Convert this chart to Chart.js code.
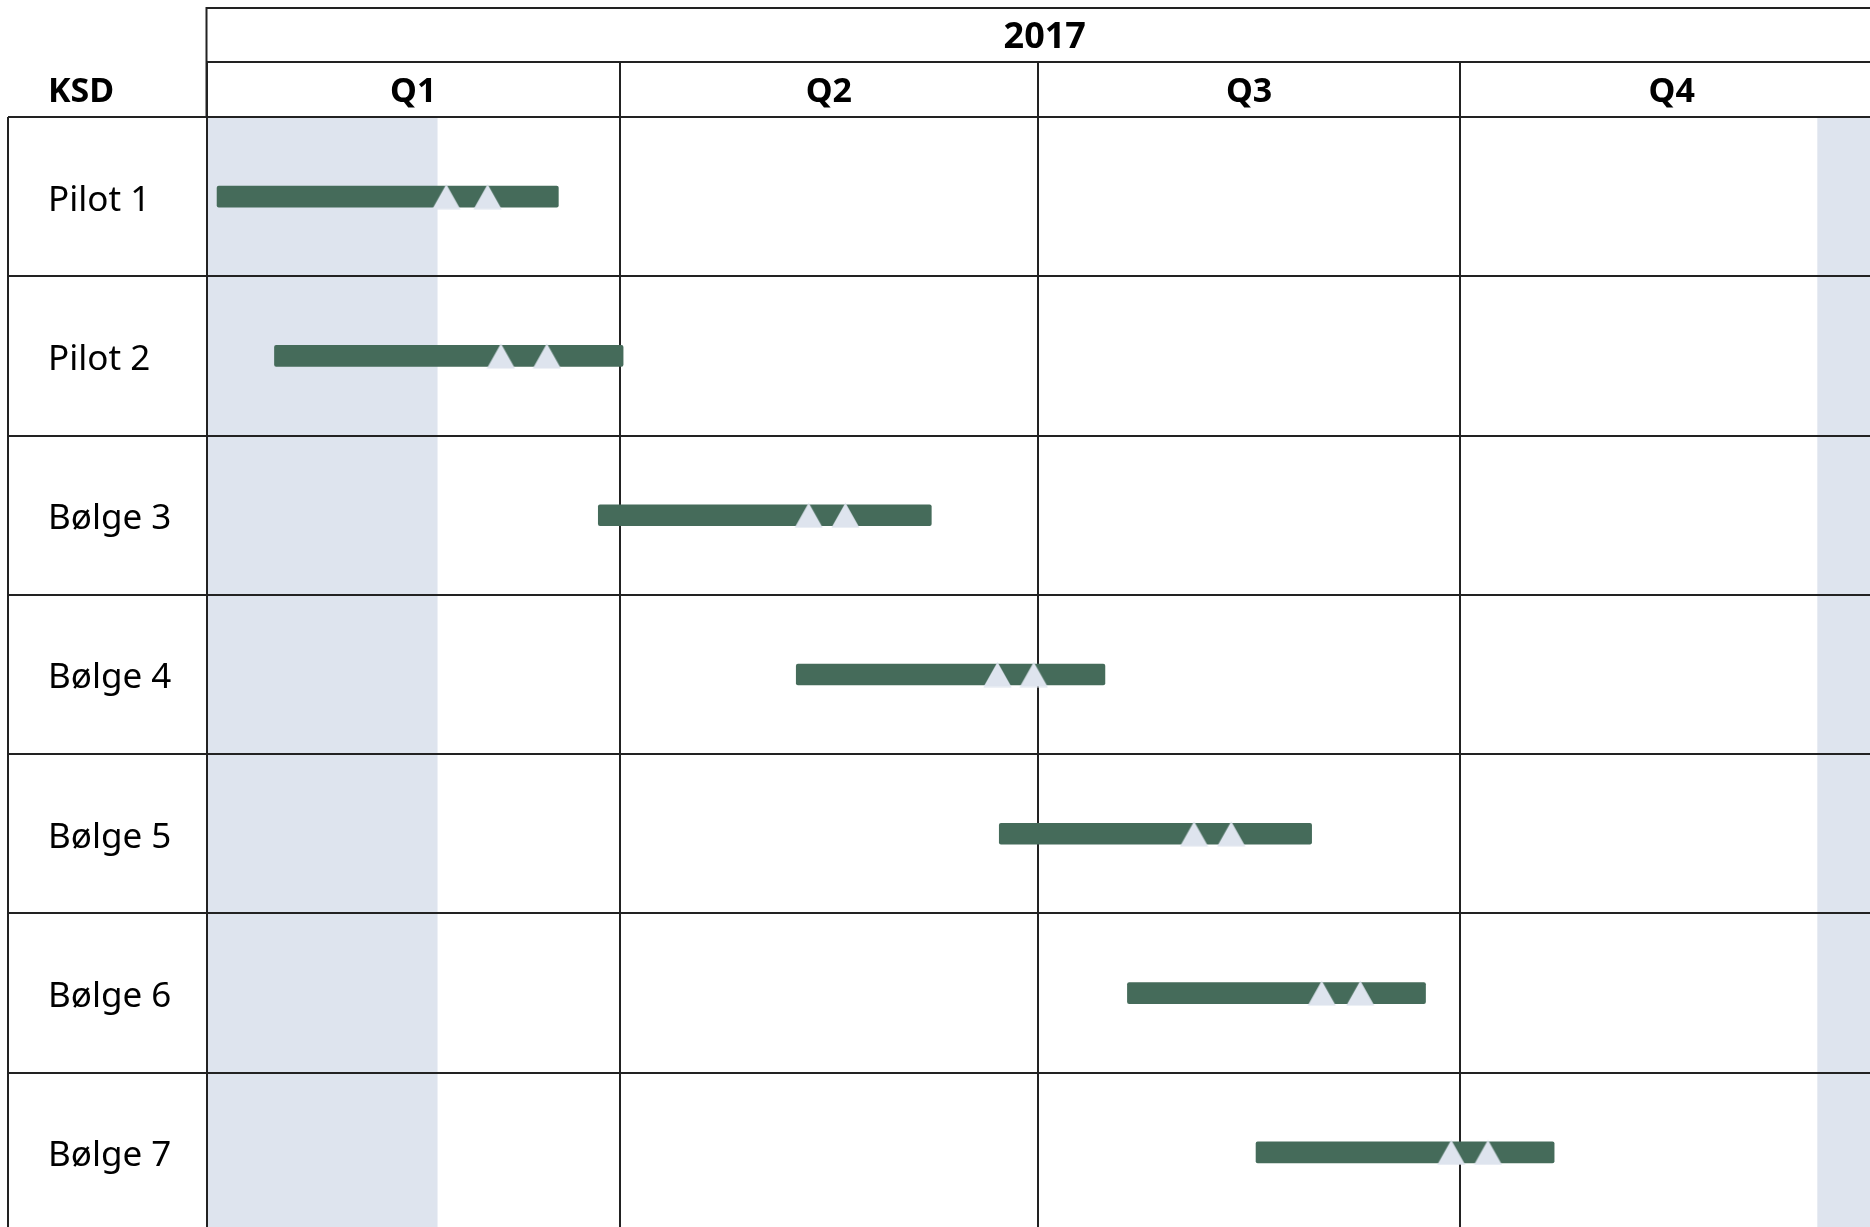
<!DOCTYPE html>
<html>
<head>
<meta charset="utf-8">
<script src="https://cdn.jsdelivr.net/npm/chart.js@4/dist/chart.umd.min.js"></script>
<style>
  html, body { margin: 0; padding: 0; background: #fff; overflow: hidden; }
  #wrap { width: 1883px; height: 1232px; }
</style>
</head>
<body>
<div id="wrap"><canvas id="gantt" width="1883" height="1232"></canvas></div>
<script>
// Tidsplan 2017 – dag i året (1. jan = 0)
const columnHeader = "KSD";
const yearLabel = "2017";
const rowLabels = ["Pilot 1", "Pilot 2", "Bølge 3", "Bølge 4", "Bølge 5", "Bølge 6", "Bølge 7"];
const barStart = [2.3, 14.8, 85.3, 128.4, 172.6, 200.5, 228.5];
const barEnd = [76.6, 90.7, 157.8, 195.6, 240.6, 265.4, 293.4];
const milestoneA = [52.2, 64.1, 131.1, 172.2, 215.0, 242.8, 271.0];
const milestoneB = [61.2, 74.1, 139.1, 180.1, 223.1, 251.2, 279.0];
const quarterLabels = ["Q1", "Q2", "Q3", "Q4"];
const quarterStarts = [0, 90, 181, 273, 365];
const shadedRanges = [[0, 50.3], [350.7, 365]];

const COLORS = {
  bar: "#456b5a",
  shade: "#dee4ee",
  line: "#222222",
  text: "#000000",
};
const FONT = "'Noto Sans', 'DejaVu Sans', sans-serif";

Chart.defaults.font.family = FONT;
Chart.defaults.color = COLORS.text;

function triangleImage(w, h, color) {
  const c = document.createElement("canvas");
  c.width = w;
  c.height = h;
  const g = c.getContext("2d");
  g.fillStyle = color;
  g.beginPath();
  g.moveTo(w / 2, 0.5);
  g.lineTo(w - 0.5, h - 0.5);
  g.lineTo(0.5, h - 0.5);
  g.closePath();
  g.fill();
  return c;
}

// bakgrunnsfelt (skygge) + tabellhode
const tablePlugin = {
  id: "table",
  beforeDraw(chart) {
    const { ctx, chartArea } = chart;
    const x = chart.scales.x;
    ctx.save();
    ctx.fillStyle = COLORS.shade;
    shadedRanges.forEach(([a, b]) => {
      const x0 = x.getPixelForValue(a);
      const x1 = x.getPixelForValue(b);
      ctx.fillRect(x0, chartArea.top, x1 - x0, chartArea.bottom - chartArea.top);
    });
    ctx.restore();
  },
  afterDraw(chart) {
    const { ctx, chartArea, width } = chart;
    const x = chart.scales.x;
    const top = 8;
    const mid = x.top;
    ctx.save();
    ctx.strokeStyle = COLORS.line;
    ctx.lineWidth = 2;
    ctx.beginPath();
    ctx.moveTo(chartArea.left, top);
    ctx.lineTo(width, top);
    ctx.moveTo(chartArea.left, mid);
    ctx.lineTo(width, mid);
    ctx.moveTo(chartArea.left, top - 1);
    ctx.lineTo(chartArea.left, chartArea.top);
    ctx.moveTo(8, chartArea.top);
    ctx.lineTo(8, chartArea.bottom);
    ctx.stroke();

    ctx.fillStyle = COLORS.text;
    ctx.textBaseline = "middle";
    ctx.textAlign = "center";
    ctx.font = "bold 36px " + FONT;
    const yearMid = x.getPixelForValue((quarterStarts[0] + quarterStarts[quarterStarts.length - 1]) / 2);
    ctx.fillText(yearLabel, yearMid, (top + mid) / 2 + 3);
    ctx.font = "bold 34px " + FONT;
    const qy = (mid + chartArea.top) / 2 + 3;
    quarterLabels.forEach((q, i) => {
      ctx.fillText(q, x.getPixelForValue((quarterStarts[i] + quarterStarts[i + 1]) / 2), qy);
    });
    ctx.textAlign = "left";
    ctx.fillText(columnHeader, 48, qy);
    ctx.restore();
  },
};

const milestones = rowLabels.flatMap((r, i) => [
  { x: milestoneA[i], y: r },
  { x: milestoneB[i], y: r },
]);

new Chart(document.getElementById("gantt"), {
  type: "bar",
  data: {
    labels: rowLabels,
    datasets: [
      {
        type: "scatter",
        data: milestones,
        pointStyle: triangleImage(29, 26, COLORS.shade),
        pointRadius: 14,
        order: 0,
      },
      {
        type: "bar",
        data: rowLabels.map((_, i) => [barStart[i], barEnd[i]]),
        backgroundColor: COLORS.bar,
        borderWidth: 0,
        borderRadius: 2,
        borderSkipped: false,
        barThickness: 21,
        order: 1,
      },
    ],
  },
  options: {
    indexAxis: "y",
    responsive: false,
    animation: false,
    layout: { autoPadding: false, padding: { left: 48, top: 62, right: 0, bottom: 0 } },
    plugins: {
      legend: { display: false },
      tooltip: { enabled: false },
    },
    scales: {
      x: {
        type: "linear",
        position: "top",
        min: quarterStarts[0],
        max: quarterStarts[quarterStarts.length - 1],
        offset: false,
        afterBuildTicks: (s) => { s.ticks = quarterStarts.map((v) => ({ value: v })); },
        afterFit: (s) => { s.height = 55; s.paddingLeft = 0; s.paddingRight = 0; },
        ticks: { display: false },
        grid: { color: COLORS.line, lineWidth: 2, tickLength: 55, drawTicks: true },
        border: { display: true, color: COLORS.line, width: 2 },
      },
      y: {
        type: "category",
        labels: rowLabels,
        offset: true,
        afterFit: (s) => { s.width = 158.5; s.paddingTop = 0; s.paddingBottom = 0; },
        ticks: { crossAlign: "far", font: { size: 35 }, color: COLORS.text, labelOffset: 4 },
        grid: { offset: true, color: COLORS.line, lineWidth: 2, tickLength: 198.5, drawTicks: true },
        border: { display: true, color: COLORS.line, width: 2 },
      },
    },
  },
  plugins: [tablePlugin],
});
</script>
</body>
</html>
